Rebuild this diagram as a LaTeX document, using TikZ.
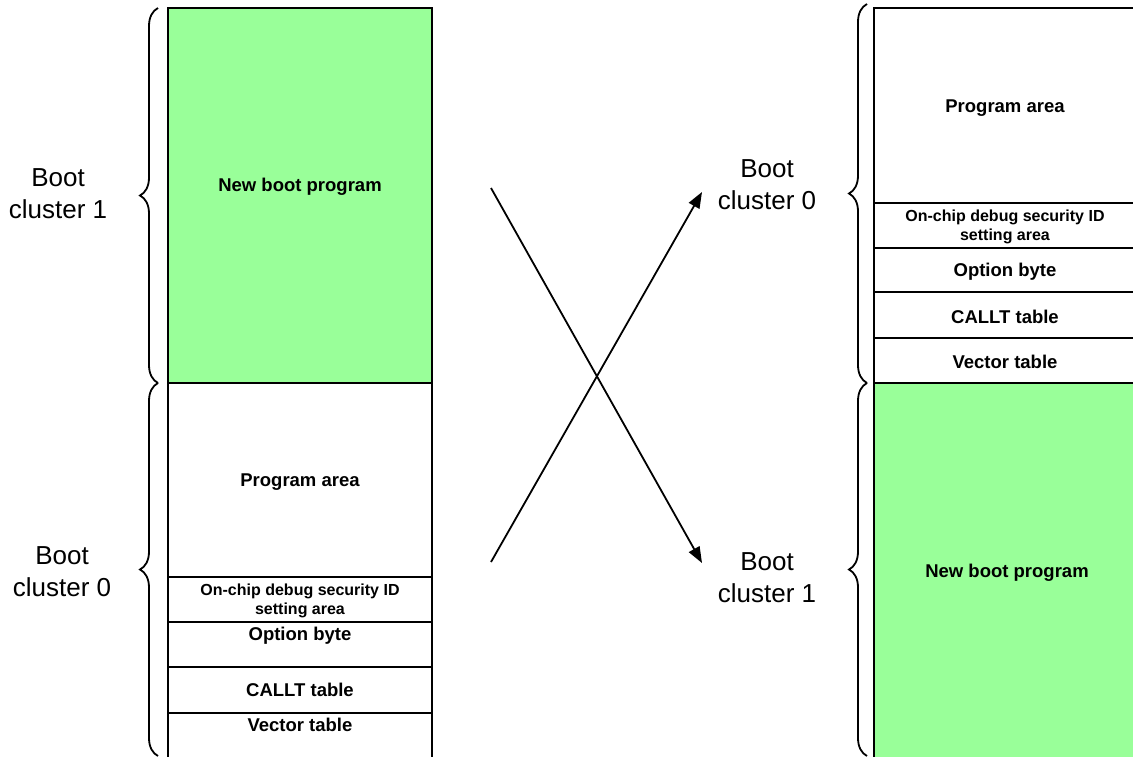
\documentclass[tikz,border=0pt]{standalone}
\usepackage{fontspec}
\setmainfont{Liberation Sans}
\usetikzlibrary{decorations.pathreplacing,arrows.meta}
\definecolor{bootgreen}{RGB}{153,255,153}
\tikzset{
  area/.style={font=\bfseries\fontsize{18.5}{22}\selectfont},
  smallarea/.style={font=\bfseries\fontsize{16}{19}\selectfont, align=center},
  cluster/.style={font=\fontsize{26}{32}\selectfont, align=center},
  curly/.style={decorate, decoration={brace, amplitude=18pt}, line width=1.8pt},
  swap/.style={line width=1.8pt, -{Triangle[length=16pt,width=12pt]}},
}
\begin{document}
\begin{tikzpicture}[x=1pt,y=-1pt]
    \clip (0,0) rectangle (1133,756);
    % left map
    \fill[bootgreen] (168,8) rectangle (432,383);
    \draw[line width=2.6pt] (168,760) -- (168,8) -- (432,8) -- (432,760);
    \foreach \y in {383,577,622,667,713}
        \draw[line width=2.6pt] (168,\y) -- (432,\y);
    \node[area] (lnew) at (300,187) {New boot program};
    \node[area] (lprog) at (300,482) {Program area};
    \node[smallarea] (ldebug) at (300,601) {On-chip debug security ID\\setting area};
    \node[area] (lopt) at (300,636) {Option byte};
    \node[area] (lcallt) at (300,690) {CALLT table};
    \node[area] (lvec) at (300,725) {Vector table};
    % right map
    \fill[bootgreen] (874,383) rectangle (1140,760);
    \draw[line width=2.6pt] (874,760) -- (874,8) -- (1140,8);
    \foreach \y in {203,248,292,338,383}
        \draw[line width=2.6pt] (874,\y) -- (1140,\y);
    \node[area] (rprog) at (1005,108) {Program area};
    \node[smallarea] (rdebug) at (1005,227) {On-chip debug security ID\\setting area};
    \node[area] (ropt) at (1005,272) {Option byte};
    \node[area] (rcallt) at (1005,317) {CALLT table};
    \node[area] (rvec) at (1005,362) {Vector table};
    \node[area] (rnew) at (1007,573) {New boot program};
    % braces
    \draw[curly] (158,383) -- (158,8);
    \draw[curly] (158,756) -- (158,383);
    \draw[curly] (867,383) -- (867,4);
    \draw[curly] (867,756) -- (867,383);
    \node[cluster] (lc1) at (58,194) {Boot\\cluster 1};
    \node[cluster] (lc0) at (62,572) {Boot\\cluster 0};
    \node[cluster] (rc0) at (767,185) {Boot\\cluster 0};
    \node[cluster] (rc1) at (767,578) {Boot\\cluster 1};
    % swap arrows
    \coordinate (from1) at (491,188);
    \coordinate (to1) at (702,563);
    \coordinate (from0) at (491,562);
    \coordinate (to0) at (702,192);
    \draw[swap] (from1) -- (to1);
    \draw[swap] (from0) -- (to0);
\end{tikzpicture}
\end{document}
